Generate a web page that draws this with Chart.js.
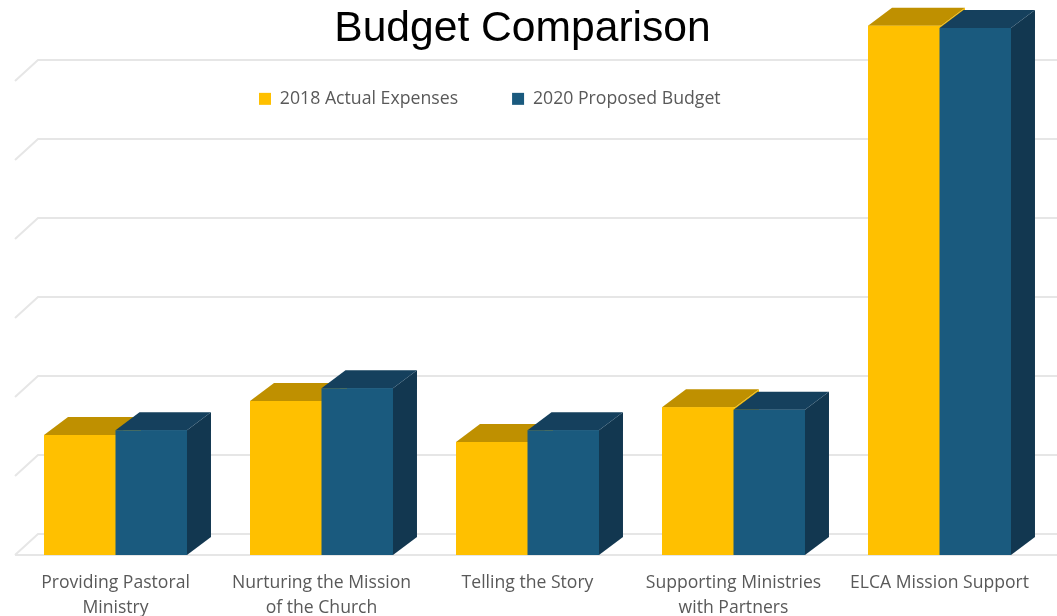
<!DOCTYPE html>
<html><head><meta charset="utf-8">
<style>html,body{margin:0;padding:0;background:#fff;overflow:hidden}#c{display:block}</style>
<script src="https://cdn.jsdelivr.net/npm/chart.js@4"></script></head>
<body><canvas id="c" width="1057" height="616" style="width:1057px;height:616px"></canvas>
<script>
const categories = [["Providing Pastoral","Ministry"],["Nurturing the Mission","of the Church"],"Telling the Story",["Supporting Ministries","with Partners"],"ELCA Mission Support"];
const actual2018 = [152000,195000,143000,187000,670000];
const proposed2020 = [158000,211000,158000,184000,667000];
const gridValues = [0,100000,200000,300000,400000,500000,600000];

const DX=24, DY=18, WALLX=23, WALLY=21;
function poly(ctx,pts,color){ctx.fillStyle=color;ctx.beginPath();pts.forEach((p,i)=>i?ctx.lineTo(p[0],p[1]):ctx.moveTo(p[0],p[1]));ctx.closePath();ctx.fill();}
const look = [
  {front:'#FFC000',top:'#BF9000',side:'#FFC000',extra:1.5},
  {front:'#1A5A7E',top:'#15405D',side:'#123750',extra:0}
];
const threeD = {
  id:'threeD',
  beforeLayout(chart){
    [chart.titleBlock,chart.legend].forEach(b=>{
      if(b && !b._wrapped){const u=b.update.bind(b);b.update=function(w,h,m){u(w,h,m);this.height=0;this.bottom=this.top;};b._wrapped=true;}
    });
  },
  afterLayout(chart){
    const l=chart.legend; const p=l.options.labels.padding;
    l.left=259-p; l.right=1057; l.top=90-p; l.bottom=l.top+p+60;
    const t=chart.titleBlock; t.top=0; t.left=0; t.right=1045; t.bottom=60; t.width=1045;
  },
  beforeDatasetsDraw(chart){
    const {ctx}=chart, y=chart.scales.y, W=chart.width;
    ctx.save();ctx.strokeStyle='#E6E6E6';ctx.lineWidth=2;
    gridValues.forEach(v=>{
      const f=y.getPixelForValue(v);
      ctx.beginPath();ctx.moveTo(15,f);ctx.lineTo(15+WALLX,f-WALLY);ctx.lineTo(W,f-WALLY);ctx.stroke();
    });
    const b=y.getPixelForValue(0);
    ctx.beginPath();ctx.moveTo(15,b);ctx.lineTo(W,b);ctx.stroke();
    ctx.restore();
  },
  afterDatasetsDraw(chart){
    const {ctx}=chart;
    ctx.save();
    chart.data.datasets.forEach((d,i)=>{
      const s=look[i];
      chart.getDatasetMeta(i).data.forEach(el=>{
        const l=el.x-el.width/2, r=el.x+el.width/2+s.extra, t=el.y, b=el.base;
        poly(ctx,[[r,b],[r+DX,b-DY],[r+DX,t-DY],[r,t]],s.side);
        poly(ctx,[[l,t],[l+DX,t-DY],[r+DX,t-DY],[r,t]],s.top);
        poly(ctx,[[l,t],[r,t],[r,b],[l,b]],s.front);
      });
    });
    ctx.restore();
  }
};
new Chart(document.getElementById('c'),{
  type:'bar',
  data:{labels:categories,datasets:[
    {label:'2018 Actual Expenses',data:actual2018,backgroundColor:'#FFC000',borderWidth:0},
    {label:'2020 Proposed Budget',data:proposed2020,backgroundColor:'#1A5A7E',borderWidth:0}
  ]},
  plugins:[threeD],
  options:{
    responsive:false,animation:false,
    devicePixelRatio:1,
    layout:{padding:{left:12.5,right:14.5,top:2,bottom:0}},
    plugins:{
      title:{display:true,text:'Budget Comparison',color:'#000',align:'center',
        font:{family:'"Liberation Sans"',size:42.6,weight:'normal',lineHeight:1},padding:{top:8,bottom:0}},
      legend:{display:true,position:'top',align:'start',
        labels:{boxWidth:12,boxHeight:12,padding:54,color:'#595959',font:{family:'"Open Sans"',size:17.7}}},
      tooltip:{enabled:false}
    },
    scales:{
      x:{offset:true,grid:{display:false},border:{display:false},
        ticks:{color:'#595959',font:{family:'"Open Sans"',size:17.6,lineHeight:1.42},padding:7,maxRotation:0,autoSkip:false},
        afterFit(s){s.height=61;}},
      y:{display:false,min:0,max:700000}
    },
    datasets:{bar:{categoryPercentage:0.694,barPercentage:1}}
  }
});
</script></body></html>
